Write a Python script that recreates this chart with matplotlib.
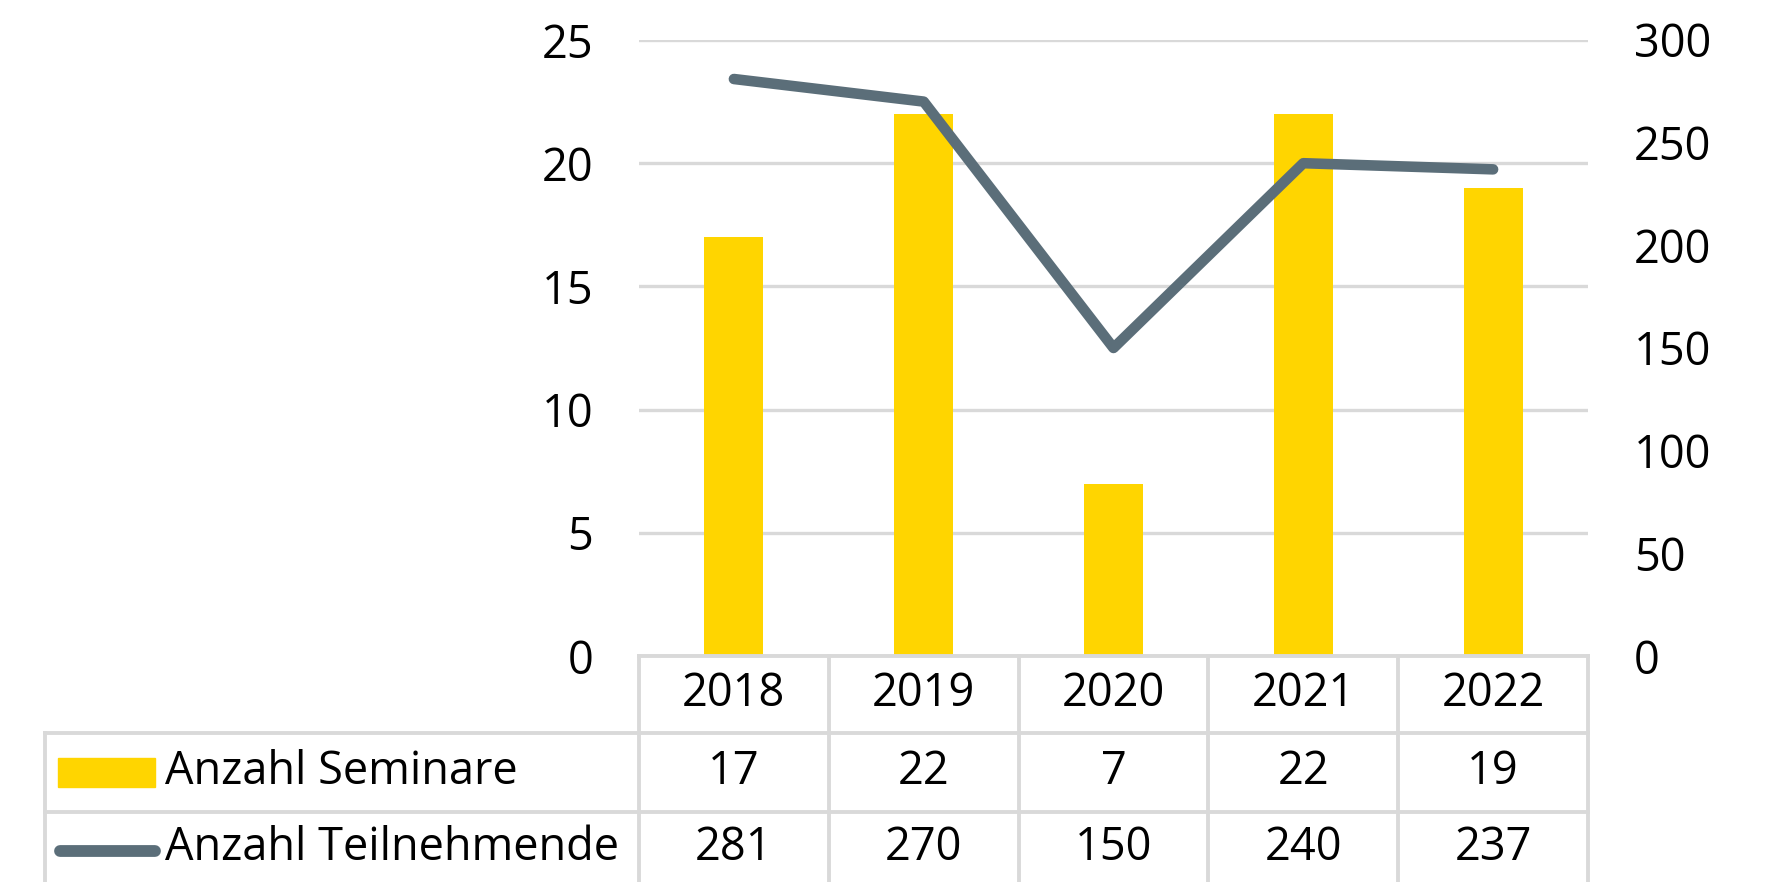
import numpy as np
import matplotlib.pyplot as plt
import matplotlib.transforms as mtransforms
from matplotlib.lines import Line2D
from matplotlib.patches import Rectangle

years = ["2018", "2019", "2020", "2021", "2022"]
seminare = [17, 22, 7, 22, 19]
teilnehmende = [281, 270, 150, 240, 237]

yellow = "#FFD500"
slate = "#5B6E79"
grid_grey = "#D9D9D9"

plt.rcParams["font.family"] = ["Open Sans", "DejaVu Sans"]
fs = 32.5

W, H = 1773, 882
fig = plt.figure(figsize=(W / 100, H / 100), dpi=100)

# axes box in pixels (from top-left)
px_left, px_right, px_top, px_bottom = 639, 1588, 40, 656
ax = fig.add_axes([px_left / W, 1 - px_bottom / H,
                   (px_right - px_left) / W, (px_bottom - px_top) / H])

x = np.arange(len(years))
ax.bar(x, seminare, width=0.31, color=yellow, zorder=2)
ax.set_xlim(-0.5, len(years) - 0.5)
ax.set_ylim(0, 25)
ax.set_yticks([0, 5, 10, 15, 20, 25])
ax.yaxis.grid(True, color=grid_grey, linewidth=2.4)
ax.set_axisbelow(True)
ax.set_xticks([])
for s in ["top", "right", "left", "bottom"]:
    ax.spines[s].set_visible(False)
ax.tick_params(axis="y", length=0, pad=33, labelsize=fs)

ax2 = ax.twinx()
ax2.plot(x, teilnehmende, color=slate, linewidth=7.6,
         solid_capstyle="round", solid_joinstyle="round", zorder=3)
ax2.set_ylim(0, 300)
ax2.set_yticks([0, 50, 100, 150, 200, 250, 300])
for s in ["top", "right", "left", "bottom"]:
    ax2.spines[s].set_visible(False)
ax2.tick_params(axis="y", length=0, pad=33, labelsize=fs)

# data table below the plot
row_edges = [656, 733, 812, 890]
def fy(py):
    return 1 - py / H

def fx(px):
    return px / W

cell_w = (px_right - px_left) / len(years)
lw_tab = 2.8
lines = []
# top line of header row (only over columns)
lines.append(([fx(px_left), fx(px_right)], [fy(row_edges[0])] * 2))
# horizontal lines of data rows (from left border)
for r in row_edges[1:3]:
    lines.append(([fx(45), fx(px_right)], [fy(r)] * 2))
# vertical lines
for i in range(len(years) + 1):
    xp = px_left + i * cell_w
    lines.append(([fx(xp)] * 2, [fy(row_edges[0]), fy(row_edges[3])]))
lines.append(([fx(45)] * 2, [fy(row_edges[1]), fy(row_edges[3])]))
for xs, ys in lines:
    fig.add_artist(Line2D(xs, ys, color=grid_grey, linewidth=lw_tab,
                          transform=fig.transFigure))

trans = mtransforms.blended_transform_factory(ax.transData, fig.transFigure)
row_centers = [(row_edges[i] + row_edges[i + 1]) / 2 for i in range(3)]
row_centers[2] = 848
for i in x:
    ax.text(i, fy(row_centers[0]), years[i], transform=trans,
            ha="center", va="center", fontsize=fs, clip_on=False)
    ax.text(i, fy(row_centers[1]), str(seminare[i]), transform=trans,
            ha="center", va="center", fontsize=fs, clip_on=False)
    ax.text(i, fy(row_centers[2]), str(teilnehmende[i]), transform=trans,
            ha="center", va="center", fontsize=fs, clip_on=False)

# legend keys inside the table
fig.add_artist(Rectangle((fx(58), fy(787)), fx(155) - fx(58), fy(758) - fy(787),
                         color=yellow, transform=fig.transFigure))
fig.add_artist(Line2D([fx(60), fx(155)], [fy(851)] * 2, color=slate,
                      linewidth=8.5, solid_capstyle="round",
                      transform=fig.transFigure))
fig.text(fx(165), fy(row_centers[1]), "Anzahl Seminare", ha="left",
         va="center", fontsize=fs)
fig.text(fx(165), fy(row_centers[2]), "Anzahl Teilnehmende", ha="left",
         va="center", fontsize=fs)

fig.savefig("out.png", dpi=100)
